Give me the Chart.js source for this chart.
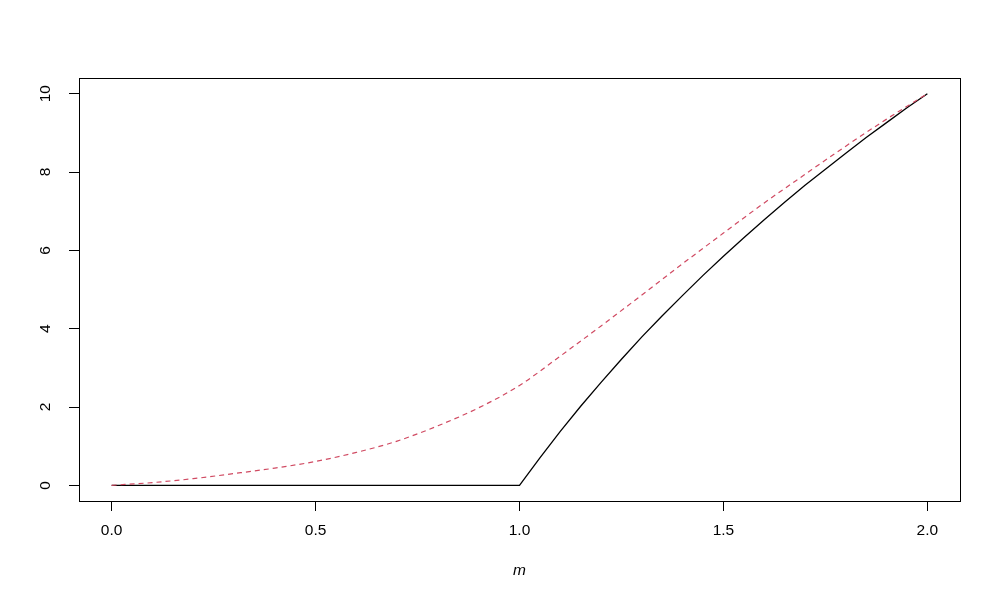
<!DOCTYPE html>
<html lang="en">
<head>
    <meta charset="UTF-8">
    <title>m curves</title>
    <style>
        body {
            margin: 0;
            background: #ffffff;
        }
        .wrap {
            width: 1000px;
            height: 600px;
        }
    </style>
</head>
<body>
    <div class="wrap">
        <canvas id="plot" width="1000" height="600"></canvas>
    </div>

    <script src="https://cdn.jsdelivr.net/npm/chart.js"></script>
    <script>
        // values
        const dashM = [0.0, 0.1, 0.2, 0.3, 0.4, 0.5, 0.6, 0.7, 0.8, 0.9, 1.0,
                       1.1, 1.2, 1.3, 1.4, 1.5, 1.6, 1.7, 1.8, 1.9, 2.0];
        const dashVals = [0, 0.07, 0.17, 0.30, 0.44, 0.61, 0.84, 1.13, 1.52, 1.98, 2.55,
                          3.30, 4.07, 4.86, 5.66, 6.44, 7.21, 7.94, 8.66, 9.35, 10];

        const solidM = [0.0, 1.0, 1.05, 1.1, 1.15, 1.2, 1.25, 1.3, 1.35, 1.4, 1.45, 1.5,
                        1.55, 1.6, 1.65, 1.7, 1.75, 1.8, 1.85, 1.9, 1.95, 2.0];
        const solidVals = [0, 0, 0.70, 1.38, 2.02, 2.63, 3.22, 3.79, 4.33, 4.85, 5.36, 5.85,
                           6.32, 6.78, 7.23, 7.66, 8.07, 8.48, 8.88, 9.26, 9.64, 10];

        const xTicks = [0, 0.5, 1, 1.5, 2];
        const yTicks = [0, 2, 4, 6, 8, 10];
        const xLabel = 'm';

        const fontFamily = '"Liberation Sans", Arial, Helvetica, sans-serif';

        const toPoints = (xs, ys) => xs.map((x, i) => ({ x: x, y: ys[i] }));

        // box around the plot region + rotated y labels (R style)
        const rFrame = {
            id: 'rFrame',
            afterDraw(chart) {
                const ctx = chart.ctx;
                const a = chart.chartArea;
                ctx.save();
                ctx.strokeStyle = '#000';
                ctx.lineWidth = 1;
                ctx.strokeRect(Math.round(a.left) + 0.5, Math.round(a.top) + 0.5,
                    Math.round(a.right - a.left), Math.round(a.bottom - a.top));

                const ys = chart.scales.y;
                ctx.fillStyle = '#000';
                ctx.font = '15.5px ' + fontFamily;
                ctx.textAlign = 'center';
                ctx.textBaseline = 'middle';
                yTicks.forEach(v => {
                    ctx.save();
                    ctx.translate(46, ys.getPixelForValue(v));
                    ctx.rotate(-Math.PI / 2);
                    ctx.fillText(String(v), 0, 0);
                    ctx.restore();
                });
                ctx.restore();
            }
        };

        new Chart(document.getElementById('plot').getContext('2d'), {
            type: 'line',
            data: {
                datasets: [{
                    label: 'dashed',
                    data: toPoints(dashM, dashVals),
                    borderColor: '#D04A62',
                    borderWidth: 1.2,
                    borderDash: [5, 4],
                    pointRadius: 0,
                    cubicInterpolationMode: 'monotone',
                    fill: false
                }, {
                    label: 'solid',
                    data: toPoints(solidM, solidVals),
                    borderColor: '#000000',
                    borderWidth: 1.3,
                    pointRadius: 0,
                    tension: 0,
                    fill: false
                }]
            },
            options: {
                responsive: false,
                animation: false,
                layout: {
                    padding: { left: 0, top: 78, right: 40, bottom: 0 }
                },
                plugins: {
                    legend: { display: false },
                    tooltip: { enabled: false }
                },
                scales: {
                    x: {
                        type: 'linear',
                        min: -0.08,
                        max: 2.08,
                        afterBuildTicks: s => { s.ticks = xTicks.map(v => ({ value: v })); },
                        afterFit: s => { s.height = 99; },
                        grid: {
                            drawOnChartArea: false,
                            drawTicks: true,
                            tickLength: 10,
                            color: '#000'
                        },
                        border: { display: true, color: '#000', width: 1 },
                        ticks: {
                            color: '#000',
                            padding: 10,
                            maxRotation: 0,
                            font: { family: fontFamily, size: 15.5 },
                            callback: v => v.toFixed(1)
                        },
                        title: {
                            display: true,
                            text: xLabel,
                            color: '#000',
                            font: { family: fontFamily, size: 15.5, style: 'italic' },
                            padding: { top: 0, bottom: 20 }
                        }
                    },
                    y: {
                        type: 'linear',
                        min: -0.4,
                        max: 10.4,
                        afterBuildTicks: s => { s.ticks = yTicks.map(v => ({ value: v })); },
                        afterFit: s => { s.width = 79; },
                        grid: {
                            drawOnChartArea: false,
                            drawTicks: true,
                            tickLength: 10,
                            color: '#000'
                        },
                        border: { display: true, color: '#000', width: 1 },
                        ticks: { display: false }
                    }
                }
            },
            plugins: [rFrame]
        });
    </script>
</body>
</html>
